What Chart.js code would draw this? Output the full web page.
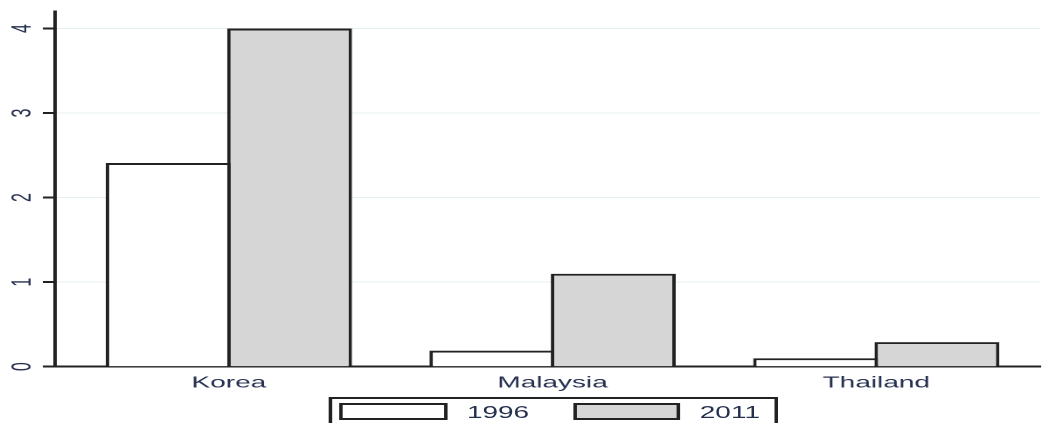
<!DOCTYPE html>
<html>
<head>
<meta charset="utf-8">
<script src="https://cdn.jsdelivr.net/npm/chart.js@4/dist/chart.umd.min.js"></script>
<style>
  html, body { margin: 0; padding: 0; background: #fff; width: 1042px; height: 423px; overflow: hidden; }
  /* The figure is laid out at 596px and widened to the 1042px page */
  #stage { position: absolute; left: 0; top: 0; width: 596px; height: 423px;
           transform: scaleX(1.748322); transform-origin: 0 0; }
  #chart { position: absolute; left: 0; top: 0; }
  #legend { position: absolute; left: 187.6px; top: 397px; width: 257.4px; height: 40px;
            border: 2px solid #222; box-sizing: border-box; display: flex; align-items: flex-start;
            padding-left: 4.9px; font-family: "Liberation Sans", Arial, sans-serif; font-size: 16px;
            color: #26304f; }
  #legend .item { display: flex; align-items: flex-start; margin-right: 25px; }
  #legend .swatch { width: 61.8px; height: 17px; box-sizing: border-box; border: 2px solid #222;
                    margin-top: 4px; margin-right: 10.8px; }
  #legend .label { line-height: 16px; margin-top: 5.8px; }
</style>
</head>
<body>
<div id="stage">
  <canvas id="chart" width="596" height="423"></canvas>
  <div id="legend"></div>
</div>
<script>
// Countries on the category axis
const categories = ['Korea', 'Malaysia', 'Thailand'];
// Survey years (series)
const seriesNames = ['1996', '2011'];
// Values per country for each year
const values1996 = [2.41, 0.19, 0.10];
const values2011 = [4.00, 1.10, 0.29];
// Value axis ticks
const yTicks = [0, 1, 2, 3, 4];

const textColor = '#26304f';
const lineColor = '#222222';
const fills = ['#ffffff', '#d6d6d6'];
const seriesValues = [values1996, values2011];

const catPct = 0.75;
const borderW = 2;

const datasets = seriesNames.map((name, k) => ({
  label: name,
  data: categories.map((c, i) => ({ x: i, y: seriesValues[k][i] })),
  backgroundColor: fills[k],
  borderColor: lineColor,
  borderWidth: borderW,
  borderSkipped: 'start',
  inflateAmount: 0,
  categoryPercentage: catPct,
  // widen each bar by one outline so neighbouring outlines coincide
  barPercentage: 1 + borderW / (185.15 * catPct / 2)
}));

const chart = new Chart(document.getElementById('chart'), {
  type: 'bar',
  data: { datasets },
  options: {
    responsive: false,
    devicePixelRatio: 2,
    animation: false,
    layout: { padding: { top: 11.6, right: 1, bottom: 26.3, left: 0 } },
    plugins: { legend: { display: false }, tooltip: { enabled: false } },
    scales: {
      x: {
        type: 'linear',
        offset: false,
        min: -0.5369,
        max: 2.5066,
        afterBuildTicks: s => { s.ticks = categories.map((c, i) => ({ value: i })); },
        afterFit: s => { s.height = 30; },
        grid: { display: false, drawTicks: false, offset: false },
        border: { display: true, color: lineColor, width: 2 },
        ticks: {
          autoSkip: false, maxRotation: 0, minRotation: 0, padding: 6.7,
          color: textColor,
          font: { family: '"Liberation Sans", Arial, sans-serif', size: 16 },
          callback: v => categories[v]
        }
      },
      y: {
        min: 0,
        max: 4.2,
        afterBuildTicks: s => { s.ticks = yTicks.map(v => ({ value: v })); },
        afterFit: s => { s.width = 31.5; s.paddingTop = 0; s.paddingBottom = 0; },
        grid: { color: '#e4eff0', lineWidth: 1, tickColor: lineColor, tickLength: 7, tickWidth: 2 },
        border: { display: true, color: lineColor, width: 2 },
        ticks: {
          minRotation: 90, maxRotation: 90, crossAlign: 'center', padding: 7.15,
          color: textColor,
          font: { family: '"Liberation Sans", Arial, sans-serif', size: 16 },
          callback: v => String(v)
        }
      }
    }
  }
});

// Legend built from the chart's datasets
const legendEl = document.getElementById('legend');
chart.data.datasets.forEach(ds => {
  const item = document.createElement('div');
  item.className = 'item';
  const sw = document.createElement('div');
  sw.className = 'swatch';
  sw.style.background = ds.backgroundColor;
  const lb = document.createElement('div');
  lb.className = 'label';
  lb.textContent = ds.label;
  item.appendChild(sw);
  item.appendChild(lb);
  legendEl.appendChild(item);
});
</script>
</body>
</html>
